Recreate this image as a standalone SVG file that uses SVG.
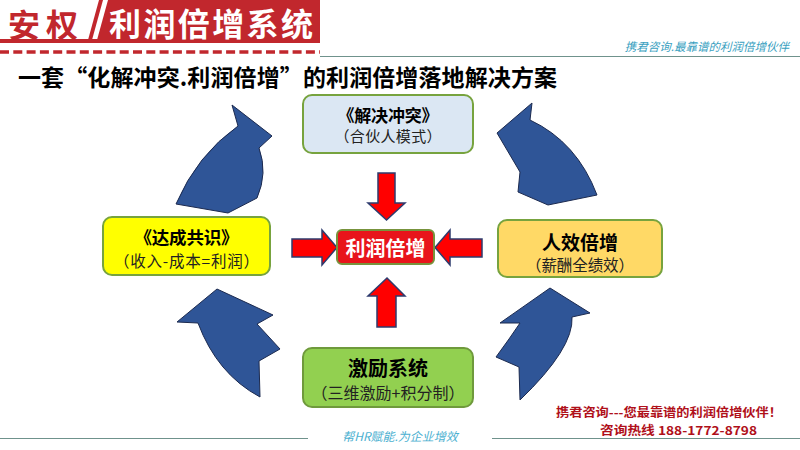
<svg xmlns="http://www.w3.org/2000/svg" width="800" height="450" viewBox="0 0 800 450">
<style>
text { font-family: "Noto Sans CJK SC", "Noto Sans", sans-serif; }
.c { text-anchor: middle; dominant-baseline: central; }
.t { font-weight: bold; fill: #000; }
.s { fill: #222; }
.box { stroke-width: 2; }
.blue { fill: #2f5597; stroke: #1c2a4f; stroke-width: 1; stroke-linejoin: miter; }
.red { fill: #ff0000; stroke: #2e3b6e; stroke-width: 1.5; }
.rule { stroke: #6f928c; stroke-width: 1; fill: none; }
.tag { font-style: italic; dominant-baseline: central; }
</style>
<rect width="800" height="450" fill="#ffffff"/>

<g id="header">
  <text x="8" y="23" style="dominant-baseline:central" font-size="32" font-weight="bold" fill="#c1272d" textLength="70">安权</text>
  <polygon points="88,40 92,40 103,0 99,0" fill="#c1272d"/>
  <polygon points="97,40 108,0 320,0 320,40" fill="#c1272d"/>
  <rect x="0" y="39" width="320" height="4" fill="#c1272d"/>
  <text x="109" y="22" style="dominant-baseline:central" font-size="32" font-weight="bold" fill="#ffffff" textLength="204">利润倍增系统</text>
  <line x1="0" y1="52" x2="320" y2="52" stroke="#c1272d" stroke-width="3.5" stroke-dasharray="9 4.3"/>
  <line class="rule" x1="320" y1="56.5" x2="800" y2="56.5"/>
  <text class="tag" x="789" y="46" text-anchor="end" font-size="11.5" fill="#3a9fbf">携君咨询.最靠谱的利润倍增伙伴</text>
</g>

<g id="title">
  <text x="18" y="76" style="dominant-baseline:central" font-size="23" font-weight="bold" fill="#000" textLength="539">一套“化解冲突.利润倍增”的利润倍增落地解决方案</text>
</g>

<g id="connectors">
  <path class="blue" d="M232,105 L272,136 L259,148 Q268,173 257,198 L228,213 L176,204 Q197,155 238,126 Z"/>
  <path class="blue" d="M532,103 L530,120 Q577,142 597,195 L548,205 L518,192 L520,172 L497,133 Z"/>
  <path class="blue" d="M217,289 L273,315 L257,324 L280,349 L259,361 L260,397 Q217,374 198,323 L177,322 Z"/>
  <path class="blue" d="M550,288 L590,313 L572,317 Q574,348 520,400 L519,367 L496,357 Q510,338 520,323 L500,323 Z"/>
  <path class="red" d="M378,173 H395 V203 H405 L386.5,220 L368,203 H378 Z"/>
  <path class="red" d="M387,278 L405,296 H396 V327 H377 V296 H368 Z"/>
  <path class="red" d="M292,239 H322 V230 L337,247.5 L322,265 V257 H292 Z"/>
  <path class="red" d="M482,239 H450 V230 L435,247.5 L450,265 V257 H482 Z"/>
</g>

<g id="node-top">
  <rect class="box" x="303" y="95" width="170" height="58" rx="9" fill="#dbe7f3" stroke="#77a33e"/>
  <text class="c t" x="388" y="114.5" font-size="17" textLength="101">《解决冲突》</text>
  <text class="c s" x="388" y="135.5" font-size="15" textLength="107">（合伙人模式）</text>
</g>

<g id="node-left">
  <rect class="box" x="103" y="217" width="167" height="58" rx="9" fill="#ffff00" stroke="#77a33e"/>
  <text class="c t" x="186.5" y="236.5" font-size="17.5" textLength="104">《达成共识》</text>
  <text class="c s" x="186.5" y="259.5" font-size="15.5" textLength="145">（收入-成本=利润）</text>
</g>

<g id="node-center">
  <rect class="box" x="337" y="230" width="97" height="34" rx="5" fill="#e8141b" stroke="#77933c"/>
  <text class="c" x="385.5" y="247" font-size="20" font-weight="bold" fill="#ffffff">利润倍增</text>
</g>

<g id="node-right">
  <rect class="box" x="498" y="220" width="164" height="57" rx="9" fill="#ffd966" stroke="#77a33e"/>
  <text class="c t" x="580" y="241" font-size="19">人效倍增</text>
  <text class="c s" x="580" y="264" font-size="15.5" textLength="108">（薪酬全绩效）</text>
</g>

<g id="node-bottom">
  <rect class="box" x="303" y="348" width="170" height="59" rx="9" fill="#92d050" stroke="#6f9a3c"/>
  <text class="c t" x="388" y="367.5" font-size="20">激励系统</text>
  <text class="c s" x="388" y="392" font-size="16" textLength="153">（三维激励+积分制）</text>
</g>

<g id="footer">
  <text class="c" x="669" y="411.5" font-size="12" font-weight="bold" fill="#b0101a" textLength="226" lengthAdjust="spacingAndGlyphs">携君咨询---您最靠谱的利润倍增伙伴！</text>
  <text class="c" x="678.5" y="429.5" font-size="12" font-weight="bold" fill="#b0101a" textLength="157" lengthAdjust="spacingAndGlyphs">咨询热线 188-1772-8798</text>
  <line class="rule" x1="0" y1="438.5" x2="308" y2="438.5"/>
  <line class="rule" x1="492" y1="438.5" x2="800" y2="438.5"/>
  <text class="tag" x="400" y="435" text-anchor="middle" font-size="12" fill="#4bb0d0">帮HR赋能.为企业增效</text>
</g>
</svg>
